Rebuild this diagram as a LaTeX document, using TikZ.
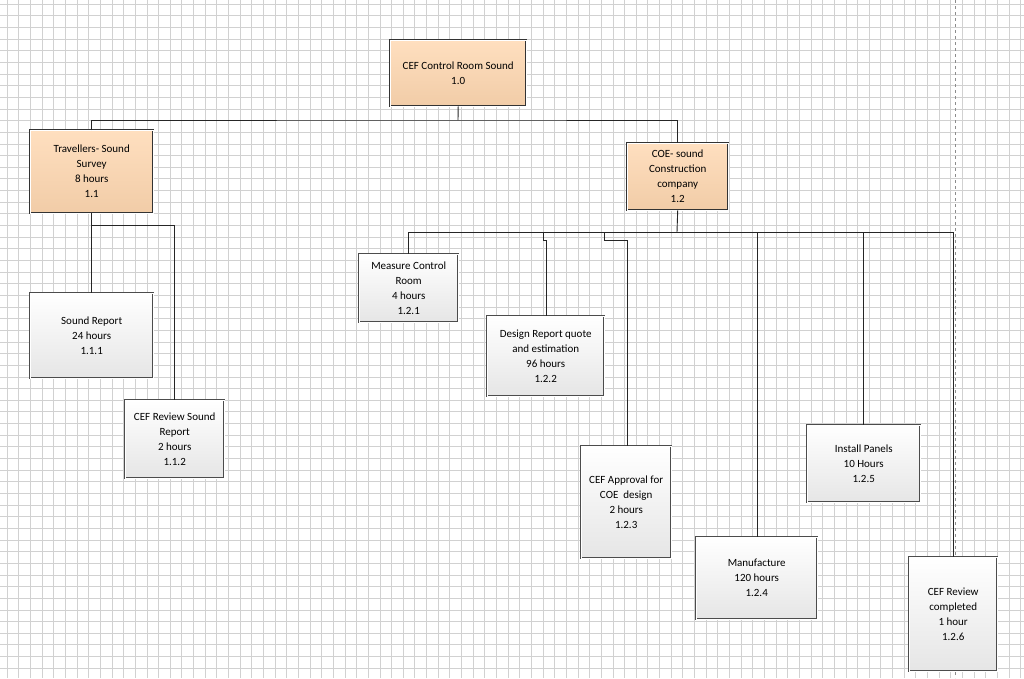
\documentclass[tikz,border=0pt]{standalone}
\usepackage{fontspec}
\setmainfont{Carlito}
\begin{document}
\begin{tikzpicture}[x=1pt,y=-1pt,
 box/.style={draw=black!70,double=white,double distance=1.2pt,align=center,font=\fontsize{11}{15}\selectfont,inner sep=0pt,anchor=north west},
 obox/.style={box,top color=orange!25,bottom color=orange!45!brown!40,draw=black!80},
 wbox/.style={box,top color=white,bottom color=black!10},
 ln/.style={draw=black!85,line width=0.9pt}]
\fill[white] (0,0) rectangle (1024,678);
\useasboundingbox (0,0) rectangle (1024,678);
\foreach \i in {0,...,89} {\draw[black!18,line width=0.6pt] ({7+\i*11.65},0) -- ({7+\i*11.65},678);}
\foreach \i in {0,...,58} {\draw[black!18,line width=0.6pt] (0,{4+\i*11.65}) -- (1024,{4+\i*11.65});}
\draw[black!45,dashed] (955,0) -- (955,678);
\node[obox,minimum width=136,minimum height=66] (r) at (390,40) {CEF Control Room Sound\\1.0};
\node[obox,minimum width=123,minimum height=83] (a) at (30,130) {Travellers- Sound\\Survey\\8 hours\\1.1};
\node[obox,minimum width=101,minimum height=67] (b) at (627,143) {COE- sound\\Construction\\company\\1.2};
\node[wbox,minimum width=123,minimum height=85] (a1) at (30,293) {Sound Report\\24 hours\\1.1.1};
\node[wbox,minimum width=99,minimum height=78] (a2) at (125,400) {CEF Review Sound\\Report\\2 hours\\1.1.2};
\node[wbox,minimum width=99,minimum height=68] (b1) at (359,254) {Measure Control\\Room\\4 hours\\1.2.1};
\node[wbox,minimum width=117,minimum height=80] (b2) at (487,316) {Design Report quote\\and estimation\\96 hours\\1.2.2};
\node[wbox,minimum width=90,minimum height=112] (b3) at (581,446) {CEF Approval for\\COE\ \ design\\2 hours\\1.2.3};
\node[wbox,minimum width=121,minimum height=82] (b4) at (696,537) {Manufacture\\120 hours\\1.2.4};
\node[wbox,minimum width=113,minimum height=77] (b5) at (807,425) {Install Panels\\10 Hours\\1.2.5};
\node[wbox,minimum width=88,minimum height=114] (b6) at (909,557) {CEF Review\\completed\\1 hour\\1.2.6};
\coordinate (rj) at (458,120);
\draw[ln] (r.south) -- (rj);
\draw[ln] (a.north) |- (rj) -| (b.north);
\coordinate (aj) at (91,225);
\draw[ln] (a.south) -- (a1.north -| a.south);
\draw[ln] (aj) -| (a2.north);
\coordinate (bj) at (677,232);
\draw[ln] (b.south) -- (bj);
\draw[ln] (bj) -| (b1.north);
\draw[ln] (bj) -| (b6.north);
\draw[ln] (543,232) -- (543,240) -- (546,240) -- (b2.north -| 546,0);
\draw[ln] (604,232) -- (604,240) -- (627,240) -- (b3.north -| 627,0);
\draw[ln] (757,232) -- (b4.north -| 757,0);
\draw[ln] (863,232) -- (b5.north -| 863,0);
\end{tikzpicture}
\end{document}
